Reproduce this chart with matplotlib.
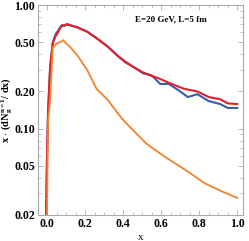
import matplotlib
matplotlib.use("Agg")
from matplotlib import pyplot as plt
import matplotlib.ticker as ticker

# curves (x, x*dN/dx)
red_x = [-0.005, 0.0, 0.005, 0.016, 0.03, 0.045, 0.058, 0.07, 0.079, 0.09, 0.105, 0.13, 0.16, 0.21, 0.26,
         0.32, 0.37, 0.41, 0.5, 0.55, 0.585, 0.64, 0.72, 0.79, 0.85, 0.91, 0.95, 1.0]
red_y = [0.02, 0.06, 0.13, 0.31, 0.49, 0.56, 0.60, 0.66, 0.69, 0.68, 0.70, 0.68, 0.66, 0.61, 0.54,
         0.46, 0.39, 0.345, 0.287, 0.267, 0.256, 0.235, 0.21, 0.2, 0.18, 0.173, 0.16, 0.158]
blue_x = [-0.005, 0.0, 0.005, 0.016, 0.03, 0.045, 0.058, 0.07, 0.079, 0.09, 0.105, 0.13, 0.16, 0.21, 0.26,
          0.32, 0.37, 0.41, 0.505, 0.55, 0.595, 0.64, 0.69, 0.74, 0.79, 0.85, 0.91, 0.95, 1.0]
blue_y = [0.02, 0.06, 0.13, 0.31, 0.50, 0.58, 0.62, 0.66, 0.68, 0.68, 0.70, 0.68, 0.66, 0.61, 0.54,
          0.46, 0.39, 0.35, 0.28, 0.27, 0.23, 0.23, 0.205, 0.18, 0.19, 0.167, 0.158, 0.147, 0.147]
orange_x = [0.0, 0.003, 0.006, 0.016, 0.03, 0.05, 0.07, 0.085, 0.1, 0.12, 0.16, 0.21, 0.26, 0.32,
            0.37, 0.41, 0.52, 0.62, 0.73, 0.83, 0.92, 1.0]
orange_y = [0.02, 0.06, 0.117, 0.17, 0.45, 0.49, 0.50, 0.52, 0.49, 0.46, 0.39, 0.30, 0.21, 0.17,
            0.134, 0.113, 0.076, 0.059, 0.046, 0.036, 0.031, 0.0275]
y_ticks = [0.02, 0.05, 0.10, 0.20, 0.50, 1.00]
x_ticks = [0.0, 0.2, 0.4, 0.6, 0.8, 1.0]

plt.rcParams['font.family'] = 'Liberation Serif'
plt.rcParams['font.weight'] = 'bold'
plt.rcParams['mathtext.fontset'] = 'custom'
plt.rcParams['mathtext.rm'] = 'Liberation Serif:bold'
plt.rcParams['mathtext.it'] = 'Liberation Serif:bold'
plt.rcParams['mathtext.bf'] = 'Liberation Serif:bold'

fig = plt.figure(figsize=(2.49, 2.41), dpi=100)
ax = fig.add_axes([0.153, 0.108, 0.823, 0.871])
ax.plot(blue_x, blue_y, color='#3b5ba8', lw=1.5)
ax.plot(red_x, red_y, color='#e3202b', lw=1.5)
ax.plot(orange_x, orange_y, color='#f4822b', lw=1.3)

ax.set_yscale('log')
ax.set_ylim(0.02, 1.0)
ax.set_xlim(-0.047, 1.03)
ax.set_yticks(y_ticks)
ax.yaxis.set_major_formatter(ticker.FuncFormatter(lambda y, _: '{:.2f}'.format(y)))
ax.yaxis.set_minor_formatter(ticker.NullFormatter())
ax.set_xticks(x_ticks)
ax.xaxis.set_major_formatter(ticker.FuncFormatter(lambda x, _: '{:.1f}'.format(x)))
ax.xaxis.set_minor_locator(ticker.MultipleLocator(0.05))
ax.tick_params(which='both', direction='in', top=True, right=True, color='#aaaaaa',
               labelsize=8.5, pad=2)
ax.tick_params(which='major', length=3.5, width=0.6)
ax.tick_params(which='minor', length=2, width=0.5)
for s in ax.spines.values():
    s.set_color('#aaaaaa')
    s.set_linewidth(0.8)

ax.set_xlabel('x', fontsize=8, labelpad=2)
fig.text(7.5 / 249, 0.543, r'x $\cdot$ (dN$_g^{n=1}$/ dx)', fontsize=7.5,
         rotation=90, ha='center', va='center')
ax.text(0.65, 0.93, 'E=20 GeV, L=5 fm', transform=ax.transAxes, fontsize=6.5, ha='center', va='center')

fig.savefig('out.png', dpi=100)
